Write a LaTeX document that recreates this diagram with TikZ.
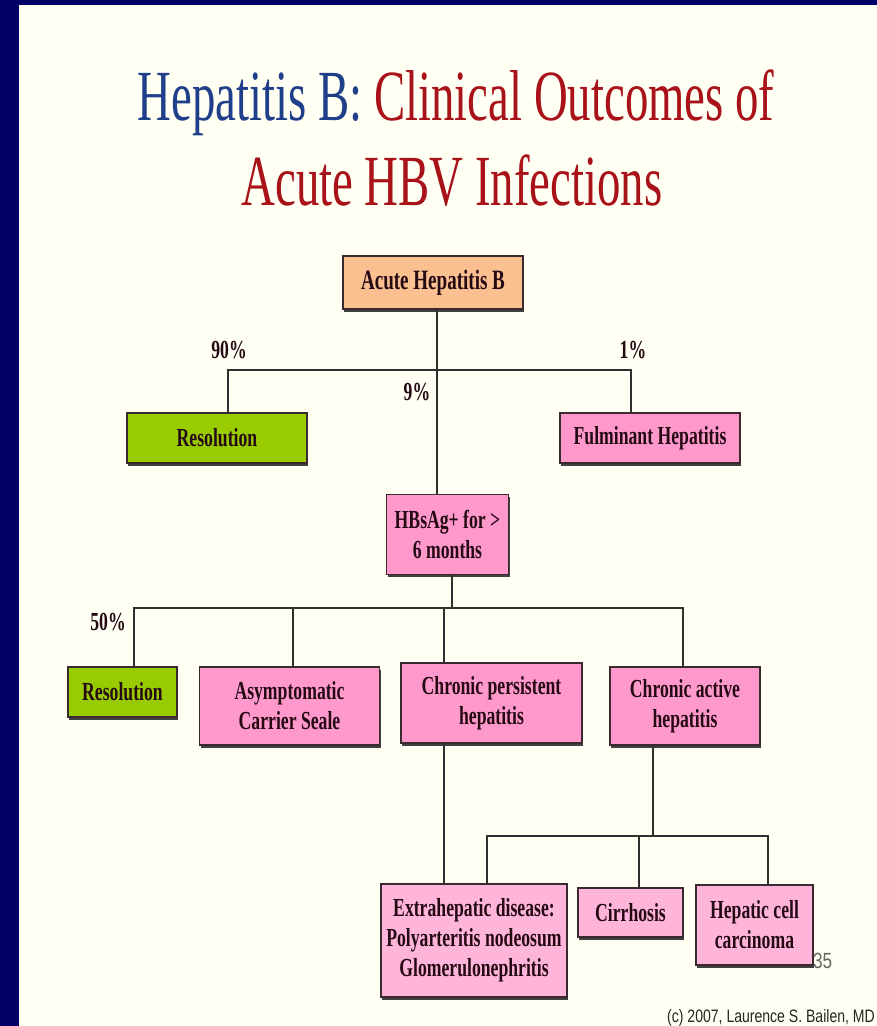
\documentclass[tikz,border=0pt]{standalone}
\usepackage{fontspec}
\setmainfont{Liberation Serif}
\newfontfamily\boxfont[FakeStretch=0.68]{Liberation Serif}
\newfontfamily\titlefont[FakeStretch=0.65]{Liberation Serif}
\newfontfamily\cfont[FakeStretch=0.78]{Liberation Sans}
\usetikzlibrary{shadows}
\definecolor{navy}{HTML}{000066}
\definecolor{cream}{HTML}{FFFFF3}
\definecolor{peach}{HTML}{FAC08F}
\definecolor{lgreen}{HTML}{99CC00}
\definecolor{pinkA}{HTML}{FF99CC}
\definecolor{pinkB}{HTML}{FFB5DA}
\definecolor{boxtext}{HTML}{250A14}
\definecolor{titleblue}{HTML}{1F3F8A}
\definecolor{titlered}{HTML}{A81218}
\definecolor{edge}{HTML}{3A2A30}
\definecolor{wire}{HTML}{303030}
\begin{document}
\begin{tikzpicture}[x=1pt,y=-1pt,
  box/.style={draw=edge, line width=1.5pt, rectangle, inner sep=0pt, align=center,
    text=boxtext, font=\boxfont\bfseries\fontsize{26}{30}\selectfont,
    drop shadow={shadow xshift=1pt, shadow yshift=-2.5pt, fill=black!75, opacity=1}},
  conn/.style={draw=wire, line width=2pt},
  pct/.style={text=boxtext, font=\boxfont\bfseries\fontsize{26}{30}\selectfont, inner sep=0pt},
  ttl/.style={font=\titlefont\fontsize{72}{80}\selectfont, inner sep=0pt, anchor=base}]
\useasboundingbox (0,0) rectangle (877,1026);
\clip (0,0) rectangle (877,1026);
\fill[navy] (0,0) rectangle (877,1026);
\fill[cream] (19,5) rectangle (877,1026);

% title
\node[ttl] (t1) at (456,120) {\textcolor{titleblue}{Hepatitis B:} \textcolor{titlered}{Clinical Outcomes of}};
\node[ttl, text=titlered] (t2) at (452,205) {Acute HBV Infections};

% boxes
\node[box, fill=peach, minimum width=180pt, minimum height=53pt, font=\boxfont\bfseries\fontsize{28}{30}\selectfont] (acute) at (433,282.5) {Acute Hepatitis B};
\node[box, fill=lgreen, minimum width=180pt, minimum height=50pt] (res1) at (217,438) {Resolution};
\node[box, fill=pinkA, minimum width=180pt, minimum height=50pt] (fulm) at (650,438) {Fulminant Hepatitis};
\node[box, fill=pinkA, minimum width=122pt, minimum height=80pt] (hbs) at (447.5,534.5) {HBsAg+ for >\\6 months};
\node[box, fill=lgreen, minimum width=109pt, minimum height=50pt] (res2) at (122.5,692) {Resolution};
\node[box, fill=pinkA, minimum width=180pt, minimum height=78pt] (asym) at (289.5,706) {Asymptomatic\\Carrier Seale};
\node[box, fill=pinkA, minimum width=181pt, minimum height=80pt] (cph) at (491.5,703) {Chronic persistent\\hepatitis};
\node[box, fill=pinkA, minimum width=150pt, minimum height=78pt] (cah) at (685,706) {Chronic active\\hepatitis};
\node[box, fill=pinkB, minimum width=186pt, minimum height=113pt] (extra) at (474,940.5) {Extrahepatic disease:\\Polyarteritis nodeosum\\Glomerulonephritis};
\node[box, fill=pinkB, minimum width=105pt, minimum height=49pt] (cirr) at (630.5,912.5) {Cirrhosis};
\node[box, fill=pinkB, minimum width=117pt, minimum height=80pt] (hcc) at (754.5,925) {Hepatic cell\\carcinoma};

% junction coordinates
\coordinate (j1) at (437,370);
\coordinate (jL) at (228,370);
\coordinate (jR) at (631,370);
\coordinate (j2) at (452,608);
\coordinate (k1) at (134,608);
\coordinate (k2) at (293,608);
\coordinate (k3) at (444,608);
\coordinate (k4) at (683,608);
\coordinate (n0) at (653,836);
\coordinate (n1) at (487,836);
\coordinate (n2) at (639,836);
\coordinate (n3) at (768,836);

% connectors
\draw[conn] (acute.south -| j1) -- (hbs.north -| j1);
\draw[conn] (res1.north -| jL) -- (jL) -- (jR) -- (fulm.north -| jR);
\draw[conn] (hbs.south -| j2) -- (j2);
\draw[conn] (res2.north -| k1) -- (k1) -- (k4) -- (cah.north -| k4);
\draw[conn] (k2) -- (asym.north -| k2);
\draw[conn] (k3) -- (cph.north -| k3);
\draw[conn] (cph.south -| k3) -- (extra.north -| k3);
\draw[conn] (cah.south -| n0) -- (n0);
\draw[conn] (extra.north -| n1) -- (n1) -- (n3) -- (hcc.north -| n3);
\draw[conn] (n2) -- (cirr.north -| n2);

% percentages
\node[pct] (p90) at (229,350) {90\%};
\node[pct] (p1) at (633,350) {1\%};
\node[pct] (p9) at (417,392) {9\%};
\node[pct] (p50) at (108,622) {50\%};

% footer
\node[font=\cfont\fontsize{22}{24}\selectfont, text=black!60, inner sep=0pt, anchor=base west] (num) at (813,968) {35};
\node[font=\cfont\fontsize{18}{20}\selectfont, text=black!85, inner sep=0pt, anchor=base east] (copy) at (875,1022) {(c) 2007, Laurence S. Bailen, MD};
\end{tikzpicture}
\end{document}
